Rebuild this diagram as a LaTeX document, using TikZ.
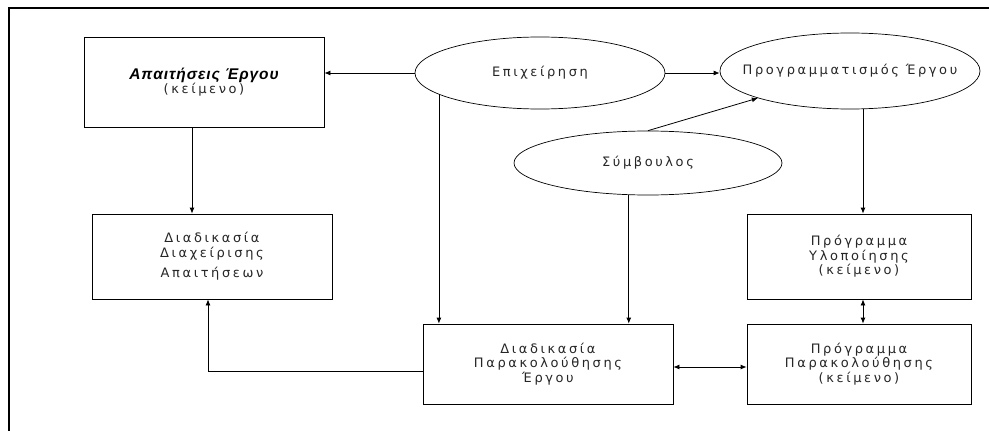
\documentclass[tikz,border=0pt]{standalone}
\usepackage{fontspec}
\setmainfont{DejaVu Sans}[LetterSpace=20]
\newfontfamily\titlefont{Liberation Sans}[LetterSpace=6]
\usetikzlibrary{shapes.geometric,arrows.meta}

\newcommand{\lblfont}{\fontsize{13}{14.5}\selectfont}
% ellipse labels take no room, so the ellipse keeps its given size
\newcommand{\zerowd}[1]{\makebox[0pt][c]{#1}}

\begin{document}
\begin{tikzpicture}[x=1pt,y=-1pt,
  stepbox/.style={draw, line width=0.8pt, inner sep=0pt, align=center, font=\lblfont, text=black!85},
  actor/.style={draw, ellipse, line width=0.7pt, inner sep=0pt, font=\lblfont, text=black!85},
  link/.style={line width=0.8pt, -{Latex[length=6pt,width=5pt]}},
  biglink/.style={line width=0.8pt, {Latex[length=6pt,width=5pt]}-{Latex[length=6pt,width=5pt]}},
  frameline/.style={line width=1.3pt}
]
\useasboundingbox[fill=white] (0,0) rectangle (989,431);

% open frame: top and left edges
\coordinate (fr) at (9,8);
\draw[frameline] (989,8) -- (fr) -- (9,431);

% document and process boxes
\node[stepbox, minimum width=240pt, minimum height=90pt] (req) at (204,82)
  {{\titlefont\fontsize{15.5}{15}\selectfont\bfseries\itshape\color{black} Απαιτήσεις Έργου}\\(κείμενο)};
\node[stepbox, minimum width=240pt, minimum height=85pt] (mgmt) at (212,256.5)
  {Διαδικασία\\Διαχείρισης\\[6pt]Απαιτήσεων};
\node[stepbox, minimum width=250pt, minimum height=80pt] (mon) at (548,364)
  {Διαδικασία\\Παρακολούθησης\\Έργου};
\node[stepbox, minimum width=224pt, minimum height=85pt] (impl) at (859,256.5)
  {Πρόγραμμα\\Υλοποίησης\\(κείμενο)};
\node[stepbox, minimum width=224pt, minimum height=80pt] (track) at (859,364)
  {Πρόγραμμα\\Παρακολούθησης\\(κείμενο)};

% actors
\node[actor, minimum width=250pt, minimum height=72pt] (biz) at (540,73) {\zerowd{Επιχείρηση}};
\node[actor, minimum width=260pt, minimum height=76pt] (plan) at (850,71) {\zerowd{Προγραμματισμός Έργου}};
\node[actor, minimum width=268pt, minimum height=64pt] (adv) at (648,163) {\zerowd{Σύμβουλος}};

% connectors
\draw[link] (biz.west) -- (req.east |- biz.west);
\draw[link] (biz.east) -- (plan.west |- biz.east);
\draw[link] (adv.north) -- (plan.south west);
\draw[link] ([xshift=4pt]impl.north |- plan.south) -- ([xshift=4pt]impl.north);
\draw[link] (biz.192) -- (biz.192 |- mon.north);
\draw[link] (adv.239) -- (adv.239 |- mon.north);
\draw[link] ([xshift=-12pt]req.south) -- ([xshift=-12pt]req.south |- mgmt.north);
\draw[link] ([yshift=-7pt]mon.west) -| ([xshift=-4pt]mgmt.south);
\draw[biglink] ([yshift=-3pt]mon.east) -- ([yshift=-3pt]track.west);
\draw[biglink] ([xshift=4pt]impl.south) -- ([xshift=4pt]track.north);
\end{tikzpicture}
\end{document}
